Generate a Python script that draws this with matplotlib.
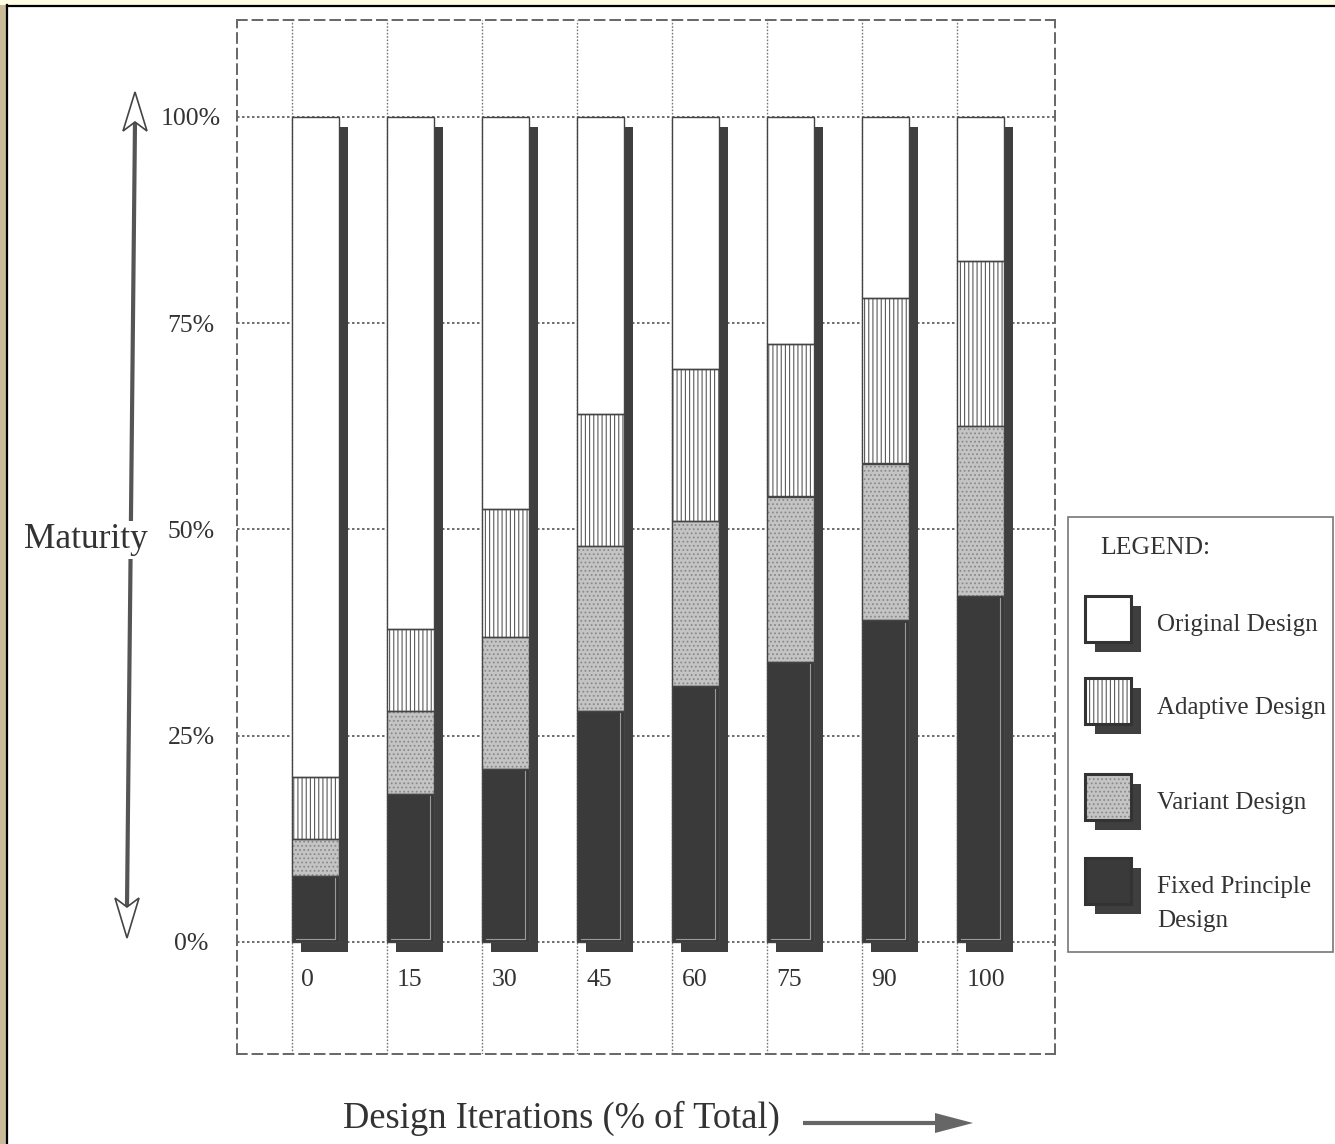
import numpy as np
import matplotlib.pyplot as plt
from matplotlib.patches import Rectangle, Polygon

plt.rcParams['font.family'] = ['Liberation Serif', 'DejaVu Serif']
plt.rcParams['hatch.linewidth'] = 0.8

# design iterations (% of total) and the maturity split of each stack
iterations = ['0', '15', '30', '45', '60', '75', '90', '100']
fixed = [8, 18, 21, 28, 31, 34, 39, 42]
variant = [4.5, 10, 16, 20, 20, 20, 19, 20.5]
adaptive = [7.5, 10, 15.5, 16, 18.5, 18.5, 20, 20]
original = [80, 62, 47.5, 36, 30.5, 27.5, 22, 17.5]
series_names = ['Original Design', 'Adaptive Design', 'Variant Design',
                'Fixed Principle\nDesign']
y_ticks = [0, 25, 50, 75, 100]
y_labels = ['0%', '25%', '50%', '75%', '100%']

TXT = '#333333'
SHADOW = '#3f3f3f'

# fill, hatch, hatch colour for each design type (bottom to top)
styles = {
    'fixed': ('#3a3a3a', None, None),
    'variant': ('#c4c4c4', '....', '#8a8a8a'),
    'adaptive': ('white', '||||', '#5a5a5a'),
    'original': ('white', None, None),
}

W, H = 1335, 1144
fig = plt.figure(figsize=(W / 100, H / 100), dpi=100)


def fig_box(x0, y0, x1, y1):
    return [x0 / W, 1 - y1 / H, (x1 - x0) / W, (y1 - y0) / H]


# page decorations in pixel units
ov = fig.add_axes([0, 0, 1, 1], zorder=0)
ov.set_xlim(0, W)
ov.set_ylim(H, 0)
ov.axis('off')
ov.add_patch(Rectangle((0, 0), 7, H, color='#c9bb97', lw=0))
ov.add_patch(Rectangle((0, 0), W, 5, color='#fffde4', lw=0))
ov.plot([7, 7], [5, H], color='black', lw=1.6)
ov.plot([7, W], [6, 6], color='black', lw=1.6)

# main chart
ax = fig.add_axes(fig_box(237, 20, 1055, 1054), zorder=1)
px_per_pct = 8.25
px_per_bar = 95.0
ax.set_ylim((942 - 1054) / px_per_pct, (942 - 20) / px_per_pct)
ax.set_xlim((237 - 292) / px_per_bar, (1055 - 292) / px_per_bar)

x = np.arange(len(iterations))
bw = 47 / px_per_bar
sdx, sdy = 9 / px_per_bar, 10 / px_per_pct

for yv in y_ticks:
    ax.axhline(yv, color='#555555', lw=1.2, ls=(0, (1.5, 1.5)), zorder=1)
for xv in x:
    ax.axvline(xv, color='#777777', lw=1.0, ls=(0, (1.2, 1.2)), zorder=1)

totals = np.sum([fixed, variant, adaptive, original], axis=0)
ax.bar(x + sdx, totals, bw, bottom=-sdy, align='edge', color=SHADOW,
       lw=0, zorder=2)

bottom = np.zeros(len(x))
for key, vals in [('fixed', fixed), ('variant', variant),
                  ('adaptive', adaptive), ('original', original)]:
    fc, hatch, hc = styles[key]
    ax.bar(x, vals, bw, bottom=bottom, align='edge', color=fc, lw=0, zorder=3)
    if hatch:
        ax.bar(x, vals, bw, bottom=bottom, align='edge', color='none',
               edgecolor=hc, lw=0, hatch=hatch, zorder=3.5)
    ax.bar(x, vals, bw, bottom=bottom, align='edge', color='none',
           edgecolor='#444444', lw=1.0, zorder=4)
    bottom += np.array(vals)

# light inner rim on the dark base segments
for xi, fv in zip(x, fixed):
    ax.plot([xi + 0.04, xi + bw - 0.04, xi + bw - 0.04],
            [0.4, 0.4, fv - 0.3], color='#9a9a9a', lw=0.8, zorder=5)

for side in ax.spines.values():
    side.set_linestyle((0, (5, 3)))
    side.set_color('#666666')
    side.set_linewidth(1.4)

ax.set_yticks(y_ticks, y_labels)
ax.tick_params(axis='y', length=0, pad=33, labelsize=18.5, labelcolor=TXT)
for lab in ax.get_yticklabels():
    lab.set_ha('center')
ax.set_xticks(x + 0.1, iterations)
ax.tick_params(axis='x', length=0, pad=-61, labelsize=18.5, labelcolor=TXT)
for lab in ax.get_xticklabels():
    lab.set_ha('left')

# overlay for arrows, titles and legend
top = fig.add_axes([0, 0, 1, 1], zorder=2)
top.set_xlim(0, W)
top.set_ylim(H, 0)
top.axis('off')
top.patch.set_alpha(0)

# vertical maturity arrow
top.plot([135, 127], [122, 906], color='#555555', lw=3, solid_capstyle='butt')
top.add_patch(Polygon([(135, 92), (123, 131), (135, 122), (147, 131)],
                      fc='white', ec='#444444', lw=1.2, zorder=3))
top.add_patch(Polygon([(127, 938), (115, 898), (127, 907), (139, 898)],
                      fc='white', ec='#444444', lw=1.2, zorder=3))
top.text(86, 540, 'Maturity', fontsize=25.5, color=TXT, ha='center',
         va='center', zorder=4,
         bbox=dict(fc='white', ec='none', pad=2))

# x title and arrow
top.text(561, 1118, 'Design Iterations (% of Total)', fontsize=26.3,
         color=TXT, ha='center', va='center')
top.plot([803, 940], [1123, 1123], color='#666666', lw=3,
         solid_capstyle='butt')
top.add_patch(Polygon([(935, 1113), (973, 1123), (935, 1133)],
                      fc='#666666', ec='none'))

# legend
top.add_patch(Rectangle((1068, 517), 265, 435, fc='white', ec='#777777',
                        lw=1.2))
top.text(1100, 548, 'LEGEND:', fontsize=18.5, color=TXT, va='center')
leg_keys = ['original', 'adaptive', 'variant', 'fixed']
leg_tops = [596, 678, 774, 858]
leg_text_y = [625, 708, 803, 904]
for key, name, ty, tyt in zip(leg_keys, series_names, leg_tops, leg_text_y):
    fc, hatch, hc = styles[key]
    top.add_patch(Rectangle((1095, ty + 10), 46, 46, fc=SHADOW, lw=0))
    top.add_patch(Rectangle((1085, ty), 46, 46, fc=fc, lw=0))
    if hatch:
        top.add_patch(Rectangle((1085, ty), 46, 46, fc='none', ec=hc, lw=0,
                                hatch=hatch))
    top.add_patch(Rectangle((1085, ty), 46, 46, fc='none', ec='#333333',
                            lw=2.2))
    top.text(1157, tyt, name, fontsize=18, color=TXT, va='center',
             linespacing=1.75)

fig.savefig('out.png', dpi=100, facecolor='white')
